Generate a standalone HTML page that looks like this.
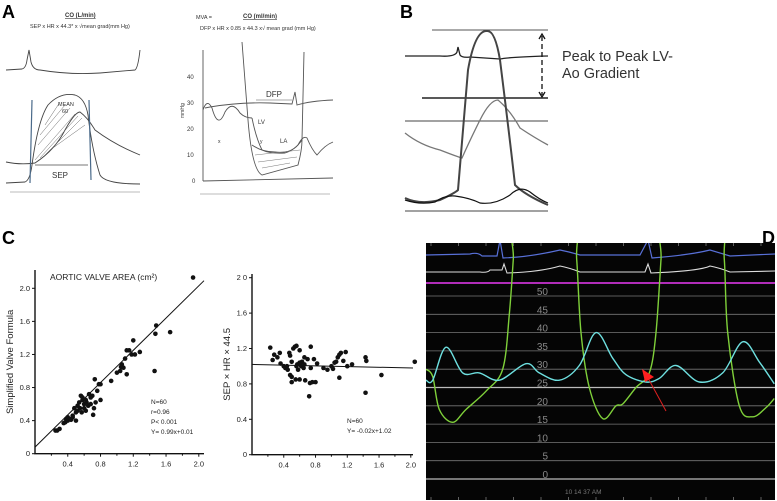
<!DOCTYPE html>
<html><head><meta charset="utf-8"><style>
html,body{margin:0;padding:0;background:#fff;}
svg{display:block;font-family:"Liberation Sans",sans-serif;}
</style></head><body>
<svg id="fig" width="777" height="501" viewBox="0 0 777 501">
<text x="2" y="18" font-size="18" font-weight="bold">A</text>
<text x="400" y="18" font-size="18" font-weight="bold">B</text>
<text x="2" y="244" font-size="18" font-weight="bold">C</text>
<text x="762" y="244" font-size="18" font-weight="bold">D</text>

<g fill="none" stroke="#444" stroke-width="0.9">
<text x="65" y="17" font-size="6" font-weight="bold" fill="#333" stroke="none" text-decoration="underline">CO (L/min)</text>
<text x="30" y="28" font-size="5.5" fill="#333" stroke="none">SEP x HR x 44.3* x √mean grad(mm Hg)</text>
<path d="M6,70 L22,69 Q26,68 27,60 L29,50 L31,62 Q33,70 40,70 Q70,75 100,73 L135,70 Q138,68 140,50"/>
<path d="M6,183 L25,182 Q30,180 32,165 Q38,120 48,105 Q60,92 75,95 Q85,98 88,115 Q92,150 100,175 Q105,184 140,184"/>
<path d="M6,162 Q20,165 35,163 Q55,150 65,130 Q75,112 80,112 Q88,118 95,130 Q115,145 140,155"/>
<path d="M35,160 L75,114 M40,158 L78,116 M45,155 L82,118 M50,150 L85,125 M38,145 L70,108 M40,135 L65,105 M45,125 L60,102" stroke="#666" stroke-width="0.5"/>
<line x1="32" y1="100" x2="30" y2="183" stroke="#4a6a8a" stroke-width="1.2"/>
<line x1="89" y1="100" x2="91" y2="180" stroke="#4a6a8a" stroke-width="1.2"/>
<line x1="35" y1="165" x2="88" y2="165" stroke="#777"/>
<text x="52" y="178" font-size="8" fill="#333" stroke="none">SEP</text>
<text x="58" y="106" font-size="5.5" fill="#333" stroke="none">MEAN</text>
<text x="62" y="113" font-size="5.5" fill="#333" stroke="none">60</text>
<line x1="10" y1="192" x2="140" y2="192" stroke="#ddd" stroke-width="2"/>
</g>

<g fill="none" stroke="#555" stroke-width="0.9">
<text x="196" y="19" font-size="5.5" fill="#333" stroke="none">MVA =</text>
<text x="243" y="18" font-size="6" font-weight="bold" fill="#333" stroke="none" text-decoration="underline">CO (ml/min)</text>
<text x="200" y="30" font-size="5.5" fill="#333" stroke="none">DFP x HR x 0.85 x 44.3 x√ mean grad (mm Hg)</text>
<line x1="203" y1="50" x2="203" y2="181"/>
<line x1="203" y1="181" x2="333" y2="178"/>
<g font-size="6" fill="#333" stroke="none">
<text x="187" y="79">40</text><text x="187" y="105">30</text><text x="187" y="131">20</text><text x="187" y="157">10</text><text x="192" y="183">0</text>
</g>
<text x="0" y="0" font-size="5" fill="#333" stroke="none" transform="translate(184,118) rotate(-90)">mmHg</text>
<path d="M203,110 Q207,98 212,108 Q218,130 225,112 Q232,100 240,113 Q245,118 252,118"/>
<path d="M242,42 L248,120 Q252,170 262,175 Q280,170 298,165 Q302,150 302,140 L304,52"/>
<path d="M252,145 Q262,152 275,152 Q290,154 298,145 Q303,135 307,138 Q312,150 317,155 Q325,145 333,142" />
<path d="M252,118 Q256,138 262,150 Q270,154 285,153 Q295,150 302,140"/>
<path d="M205,108 L210,107 Q240,102 270,103 L292,104 L295,92 L297,105 Q310,101 333,100"/>
<line x1="256" y1="100" x2="292" y2="100" stroke-width="0.6"/>
<text x="266" y="97" font-size="8" fill="#333" stroke="none">DFP</text>
<text x="258" y="124" font-size="6" fill="#333" stroke="none">LV</text>
<text x="218" y="143" font-size="5" fill="#333" stroke="none">x</text>
<text x="260" y="143" font-size="5" fill="#333" stroke="none">y</text>
<text x="280" y="143" font-size="6" fill="#333" stroke="none">LA</text>
<path d="M255,155 L300,150 M258,162 L297,157 M262,168 L290,163" stroke="#777" stroke-width="0.5"/>
<line x1="200" y1="194" x2="330" y2="194" stroke="#ddd" stroke-width="2"/>
</g>

<g fill="none" stroke-width="1">
<line x1="432" y1="30" x2="548" y2="30" stroke="#555"/>
<line x1="422" y1="98" x2="548" y2="98" stroke="#222" stroke-width="1.4"/>
<line x1="405" y1="121" x2="548" y2="121" stroke="#444"/>
<line x1="405" y1="211" x2="548" y2="211" stroke="#444"/>
<path d="M405,56 L440,56 Q455,57 457,52 L458,47 L460,55 Q462,58 470,57 L500,59 Q510,57 548,56" stroke="#222" stroke-width="1.3"/>
<path d="M405,133 Q420,145 440,150 Q458,157 462,158 Q470,140 480,120 Q490,100 498,100 Q510,110 520,128 Q535,138 548,145" stroke="#777" stroke-width="1.3"/>
<path d="M405,198 Q420,205 440,200 Q455,193 458,190 Q462,140 468,70 Q475,30 487,31 Q495,30 500,60 Q510,140 515,185 Q525,195 548,205" stroke="#444" stroke-width="2"/>
<path d="M405,200 Q420,205 435,202 Q445,195 455,196 Q470,198 480,203 Q495,205 510,195 Q520,185 530,192 Q540,200 548,203" stroke="#111" stroke-width="1.2"/>
<line x1="542" y1="36" x2="542" y2="95" stroke="#111" stroke-width="1.3" stroke-dasharray="5,3"/>
<path d="M539,39 L542,34 L545,39 M539,92 L542,97 L545,92" stroke="#111" stroke-width="1.3"/>
<text x="562" y="61" font-size="14.5" fill="#333" stroke="none">Peak to Peak LV-</text>
<text x="562" y="78" font-size="14.5" fill="#333" stroke="none">Ao Gradient</text>
</g>

<g id="c1"></g>
<g id="c2"></g>
<g id="d"></g>
</svg>
<script>
const c1X = [0.25,0.27,0.3,0.35,0.37,0.38,0.4,0.42,0.44,0.46,0.48,0.5,0.5,0.52,0.52,0.54,0.55,0.56,0.57,0.58,0.6,0.6,0.62,0.63,0.65,0.66,0.68,0.7,0.71,0.72,0.73,0.74,0.76,0.78,0.8,0.8,0.93,1.0,1.05,1.06,1.08,1.1,1.12,1.12,1.15,1.18,1.2,1.22,1.28,1.46,1.47,1.48,1.65,1.93,0.58,0.46,0.68,1.04,0.62,0.4];
const c1Y = [0.28,0.28,0.3,0.37,0.38,0.42,0.4,0.42,0.41,0.44,0.55,0.4,0.5,0.52,0.58,0.62,0.55,0.7,0.5,0.65,0.6,0.55,0.65,0.62,0.58,0.72,0.6,0.7,0.47,0.55,0.9,0.62,0.76,0.84,0.84,0.65,0.88,0.98,1.05,1.08,1.04,1.15,1.25,0.96,1.25,1.2,1.37,1.2,1.23,1.0,1.45,1.55,1.47,2.13,0.68,0.46,0.68,1.0,0.52,0.44];
const c1Fit = [0.975, 0.08];
const c2X = [0.23,0.26,0.28,0.32,0.35,0.36,0.4,0.42,0.45,0.47,0.48,0.48,0.5,0.5,0.52,0.54,0.55,0.56,0.57,0.58,0.6,0.6,0.62,0.63,0.65,0.66,0.67,0.7,0.72,0.73,0.74,0.76,0.78,0.8,0.82,0.74,0.95,1.0,1.04,1.06,1.08,1.1,1.1,1.12,1.15,1.18,1.2,1.26,1.43,1.44,1.43,1.63,2.05,0.44,0.66,0.56,0.5,0.9,1.02,0.6];
const c2Y = [1.21,1.07,1.13,1.1,1.15,1.03,1.0,0.98,0.96,1.15,0.9,1.12,0.82,0.88,1.2,1.22,0.85,1.23,1.02,0.96,1.18,0.85,1.0,1.05,0.98,1.02,0.84,1.08,0.66,0.81,1.22,0.82,1.08,0.82,1.03,0.98,0.96,1.0,1.04,1.05,1.1,1.13,0.87,1.15,1.06,1.16,1.0,1.02,1.1,1.06,0.7,0.9,1.05,1.0,1.1,1.0,1.05,0.98,0.97,1.04];
const c2Fit = [-0.02, 1.02];
const cTicks = [0.4,0.8,1.2,1.6,2.0];
const cTickLabels = ["0.4","0.8","1.2","1.6","2.0"];

const dTimeCyan = [0,20,60,110,160,220,300,340,400,460,510,560,600,660,700,750,820,890,950,1000,1045];
const dCyan = [27,27,36,29,29,27,31.5,29,27,31,40,33,28.5,26.5,27.5,31,26.5,29,37.5,32,26];
const dTimeGreen = [0,20,40,80,120,180,230,250,262,270,440,452,465,490,530,570,590,630,670,690,705,712,880,895,905,940,980,1020,1045];
const dGreen = [30,28,19,15.5,19,24,30,45,60,70,70,60,40,25,16.5,20,20.5,25,29,40,60,70,70,60,40,20,17,19.5,22];
const dGridVals = [50,45,40,35,30,25,20,15,10,5,0];

const NS = "http://www.w3.org/2000/svg";
function mk(parent, tag, attrs){ const e=document.createElementNS(NS,tag); for(const k in attrs) e.setAttribute(k,attrs[k]); parent.appendChild(e); return e; }

function scatter(gid, X, Y, fit, sx, sy, x0, y0, xMaxPx, yTopPx, ylabel, yTicks, yTickLabels, notes, title){
  const g=document.getElementById(gid);
  const ax = mk(g,'path',{d:`M${x0},${yTopPx} L${x0},${y0} L${xMaxPx},${y0}`,fill:'none',stroke:'#111','stroke-width':1.4});
  
  
  cTicks.forEach((t,i)=>{
    const x=x0+t*sx;
    mk(g,'line',{x1:x,y1:y0,x2:x,y2:y0+3,stroke:'#111'});
    mk(g,'line',{x1:x-0.2*sx,y1:y0,x2:x-0.2*sx,y2:y0+2,stroke:'#111'});
    const tl=mk(g,'text',{x:x,y:y0+13,'font-size':7.5,'text-anchor':'middle',fill:'#222'});
    tl.textContent=cTickLabels[i];
    
    
  });
  yTicks.forEach((t,i)=>{
    const y=y0-t*sy;
    mk(g,'line',{x1:x0-3,y1:y,x2:x0,y2:y,stroke:'#111'});
    const tl=mk(g,'text',{x:x0-5,y:y+2.5,'font-size':7.5,'text-anchor':'end',fill:'#222'});
    tl.textContent=yTickLabels[i];
    
    
  });
  const x2=(xMaxPx-x0)/sx;
  const fl=mk(g,'line',{x1:x0,y1:y0-fit[1]*sy,x2:x0+x2*sx,y2:y0-(fit[0]*x2+fit[1])*sy,stroke:'#111','stroke-width':1});
  
  
  X.forEach((v,i)=>{
    const c=mk(g,'circle',{cx:x0+v*sx,cy:y0-Y[i]*sy,r:2.3,fill:'#111'});
    
    
  });
  const yl=mk(g,'text',{x:0,y:0,'font-size':9.5,fill:'#222','text-anchor':'middle',transform:`translate(${x0-22},${(y0+yTopPx)/2}) rotate(-90)`});
  yl.textContent=ylabel;
  
  
  notes.forEach((n)=>{
    const t=mk(g,'text',{x:n[0],y:n[1],'font-size':6.5,fill:'#222'}); t.textContent=n[2];
    
    
  });
  if(title){ const t=mk(g,'text',{x:title[0],y:title[1],'font-size':8.5,fill:'#222'}); t.textContent=title[2];
    
     }
}
scatter('c1',c1X,c1Y,c1Fit,81.9,82.7,35,453.7,204,270,'Simplified Valve Formula',[0,0.4,0.8,1.2,1.6,2.0],['0','0.4','0.8','1.2','1.6','2.0'],
  [[151,404,'N=60'],[151,414,'r=0.96'],[151,424,'P< 0.001'],[151,434,'Y= 0.99x+0.01']],[50,280,'AORTIC VALVE AREA (cm\u00b2)']);
scatter('c2',c2X,c2Y,c2Fit,79.4,88.5,252,454.7,413,274,'SEP \u00d7 HR \u00d7 44.5',[0,0.4,0.8,1.2,1.6,2.0],['0','0.4','0.8','1.2','1.6','2 0'],
  [[347,423,'N=60'],[347,433,'Y= -0.02x+1.02']],null);

(function(){
  const g=document.getElementById('d');
  const L=426,T=243,R=775,B=500;
  const tx=z=>L+z/3;
  const vy=v=>479-v*3.66;
  const bg=mk(g,'rect',{x:L,y:T,width:R-L,height:B-T,fill:'#050505'});
  
  
  const cp=mk(g,'clipPath',{id:'dclip'}); mk(cp,'rect',{x:L,y:T,width:R-L,height:B-T});
  for(let i=0;i<13;i++){ mk(g,'line',{x1:L+5+i*27.5,y1:T,x2:L+5+i*27.5,y2:T+3,stroke:'#888','stroke-width':0.7}); mk(g,'line',{x1:L+5+i*27.5,y1:B-3,x2:L+5+i*27.5,y2:B,stroke:'#888','stroke-width':0.7}); }
  dGridVals.forEach(v=>{
    const y=vy(v);
    const gl=mk(g,'line',{x1:L,y1:y,x2:R,y2:y,stroke:v===25||v===0?'#bbb':'#777','stroke-width':v===25||v===0?1.2:0.8});
    
    
    const t=mk(g,'text',{x:548,y:y-1,'font-size':10,fill:'#888','text-anchor':'end'}); t.textContent=String(v);
    
    
  });
  mk(g,'line',{x1:L,y1:283,x2:R,y2:283,stroke:'#b02cb8','stroke-width':2});
  mk(g,'path',{d:'M426,255 L470,254 Q478,252 482,256 L497,256 L500,240 L503,258 Q530,257 560,250 Q570,252 580,255 L640,255 L648,240 L652,258 Q690,255 710,250 Q720,253 730,256 L775,254',fill:'none',stroke:'#5870d8','stroke-width':1.2,'clip-path':'url(#dclip)'});
  mk(g,'path',{d:'M426,272 L480,272 Q488,273 490,270 L502,270 L504,264 L507,273 Q540,272 560,266 Q570,268 580,272 L645,272 L648,264 L651,273 Q700,271 710,266 Q720,268 730,272 L775,271',fill:'none',stroke:'#ddd','stroke-width':1.1,'clip-path':'url(#dclip)'});
  const smooth=(Ts,Vs)=>{
    const p=Ts.map((t,i)=>[tx(t),vy(Vs[i])]);
    let d='M'+p[0][0].toFixed(1)+','+p[0][1].toFixed(1);
    for(let i=0;i<p.length-1;i++){
      const p0=p[Math.max(0,i-1)],p1=p[i],p2=p[i+1],p3=p[Math.min(p.length-1,i+2)];
      const c1=[p1[0]+(p2[0]-p0[0])/6,p1[1]+(p2[1]-p0[1])/6];
      const c2=[p2[0]-(p3[0]-p1[0])/6,p2[1]-(p3[1]-p1[1])/6];
      d+=` C${c1[0].toFixed(1)},${c1[1].toFixed(1)} ${c2[0].toFixed(1)},${c2[1].toFixed(1)} ${p2[0].toFixed(1)},${p2[1].toFixed(1)}`;
    }
    return d;
  };
  const gr=mk(g,'path',{d:smooth(dTimeGreen,dGreen),fill:'none',stroke:'#7fd03a','stroke-width':1.4,'stroke-linejoin':'round','clip-path':'url(#dclip)'});
  
  
  const cy=mk(g,'path',{d:smooth(dTimeCyan,dCyan),fill:'none',stroke:'#6ee0e0','stroke-width':1.4,'stroke-linejoin':'round','clip-path':'url(#dclip)'});
  
  
  const ar=mk(g,'line',{x1:666,y1:411,x2:648,y2:378,stroke:'#e02020','stroke-width':1});
  
  
  mk(g,'polygon',{points:'642,369 654,377 645,382',fill:'#ff2020'});
  const t=mk(g,'text',{x:565,y:494,'font-size':6.5,fill:'#777'}); t.textContent='10 14 37 AM';
  
  
})();
</script>
</body></html>
